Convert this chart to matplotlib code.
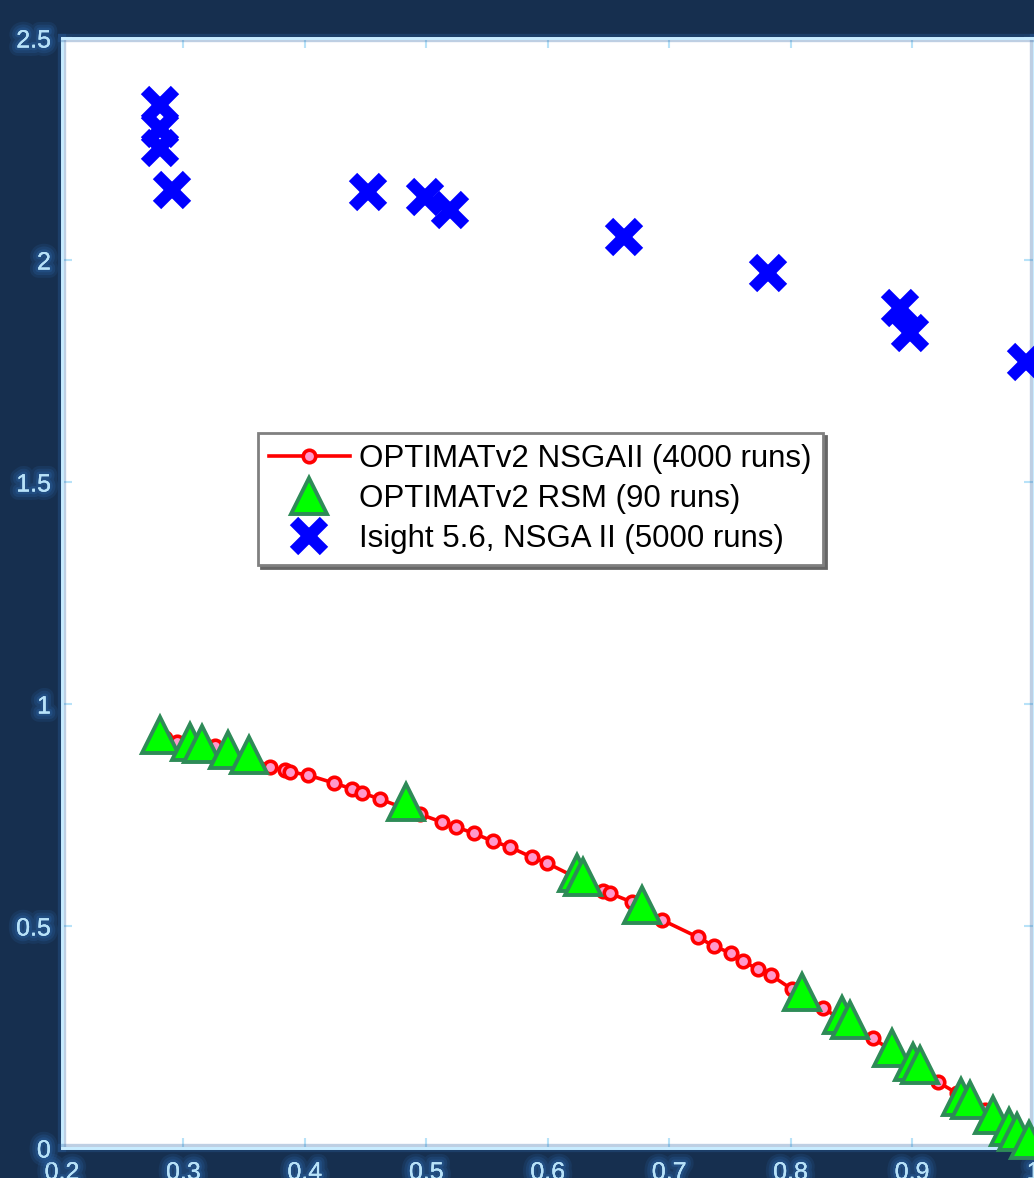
#!/usr/bin/env python3
import matplotlib
matplotlib.use("Agg")
import matplotlib.pyplot as plt
import matplotlib.patheffects as pe


# OPTIMATv2 NSGAII front (line + circles)
nsga_x = [0.2848, 0.2947, 0.3259, 0.3547, 0.3712, 0.3835, 0.3877, 0.4025,
          0.4239, 0.4387, 0.4469, 0.4617, 0.4947, 0.5128, 0.5243, 0.5391,
          0.5547, 0.5687, 0.5868, 0.5992, 0.6453, 0.6510, 0.6691, 0.6938,
          0.7235, 0.7366, 0.7506, 0.7605, 0.7728, 0.7835, 0.8008, 0.8263,
          0.8675, 0.9210, 0.9366, 0.9597, 0.9802, 0.9967]
nsga_y = [0.923, 0.914, 0.905, 0.881, 0.858, 0.851, 0.847, 0.840,
          0.822, 0.809, 0.800, 0.786, 0.752, 0.734, 0.723, 0.709,
          0.691, 0.678, 0.655, 0.642, 0.579, 0.574, 0.554, 0.514,
          0.475, 0.455, 0.439, 0.421, 0.403, 0.390, 0.358, 0.315,
          0.248, 0.149, 0.124, 0.086, 0.047, 0.014]

# OPTIMATv2 RSM points
rsm_x = [0.2807, 0.3053, 0.3152, 0.3366, 0.3539, 0.4831, 0.6239, 0.6288,
         0.6774, 0.8091, 0.8420, 0.8486, 0.8831, 0.9004, 0.9062, 0.9407,
         0.9473, 0.9663, 0.9802, 0.9868, 0.9967]
rsm_y = [0.930, 0.914, 0.910, 0.896, 0.885, 0.779, 0.619, 0.610,
         0.547, 0.351, 0.300, 0.288, 0.225, 0.194, 0.187, 0.115,
         0.108, 0.074, 0.047, 0.036, 0.018]

# Isight 5.6 NSGA II points
isight_x = [0.2807, 0.2807, 0.2807, 0.2905, 0.4519, 0.4988, 0.5193, 0.6626,
            0.7811, 0.8897, 0.8980, 0.9940]
isight_y = [2.349, 2.295, 2.252, 2.158, 2.153, 2.142, 2.113, 2.052,
            1.971, 1.892, 1.836, 1.770]

labels = ["OPTIMATv2 NSGAII (4000 runs)",
          "OPTIMATv2 RSM (90 runs)",
          "Isight 5.6, NSGA II (5000 runs)"]

xticks = [0.2, 0.3, 0.4, 0.5, 0.6, 0.7, 0.8, 0.9, 1.0]
xticklabels = ["0.2", "0.3", "0.4", "0.5", "0.6", "0.7", "0.8", "0.9", "1"]
yticks = [0, 0.5, 1, 1.5, 2, 2.5]
yticklabels = ["0", "0.5", "1", "1.5", "2", "2.5"]

BG = "#162f4f"
TICKC = "#b8e2f8"
GLOW = "#2a62a4"

plt.rcParams["font.family"] = ["Liberation Sans", "DejaVu Sans"]

fig = plt.figure(figsize=(10.34, 11.78), dpi=100, facecolor=BG)
ax = fig.add_axes([62 / 1034, 30 / 1178, 971.5 / 1034, 1110 / 1178])
ax.set_facecolor("white")

h1, = ax.plot(nsga_x, nsga_y, "-o", color="red", linewidth=2.6,
              markersize=9, markerfacecolor="#ff99cc", markeredgecolor="red",
              markeredgewidth=2.6, clip_on=False, zorder=3)
h2, = ax.plot(rsm_x, rsm_y, "^", markersize=26, markerfacecolor="#00ff00",
              markeredgecolor="#2e8b57", markeredgewidth=2.8, clip_on=False,
              zorder=4)
h3, = ax.plot(isight_x, isight_y, "x", markersize=22, markeredgecolor="blue",
              markeredgewidth=8.5, clip_on=False, zorder=4)

ax.set_xlim(0.2, 1.0)
ax.set_ylim(0, 2.5)
ax.set_xticks(xticks)
ax.set_xticklabels(xticklabels)
ax.set_yticks(yticks)
ax.set_yticklabels(yticklabels)
ax.tick_params(direction="in", length=7, width=1.5, color=TICKC,
               labelcolor=TICKC, labelsize=18, top=True, right=True)
ax.tick_params(axis="x", pad=9)
ax.tick_params(axis="y", pad=8)

# soft glow behind tick labels
glow = [pe.withStroke(linewidth=12, foreground=GLOW, alpha=0.18),
        pe.withStroke(linewidth=8, foreground=GLOW, alpha=0.25),
        pe.withStroke(linewidth=4, foreground=GLOW, alpha=0.35),
        pe.Normal()]
for t in ax.get_xticklabels() + ax.get_yticklabels():
    t.set_path_effects(glow)

for s in ax.spines.values():
    s.set_color("#c8ecff")
    s.set_linewidth(2)
    s.set_path_effects([pe.withStroke(linewidth=6, foreground=GLOW, alpha=0.3),
                        pe.Normal()])

leg = ax.legend([h1, h2, h3], labels, loc="upper left",
                bbox_to_anchor=(0.2016, 0.644), borderaxespad=0,
                fontsize=22.5, numpoints=1, handlelength=2.6,
                handletextpad=0.3, borderpad=0.35, labelspacing=0.32,
                fancybox=False, framealpha=1, edgecolor="#808080",
                shadow={"color": "0.4", "alpha": 1})
leg.get_frame().set_linewidth(2)

fig.savefig("out.png", dpi=100, facecolor=BG)
